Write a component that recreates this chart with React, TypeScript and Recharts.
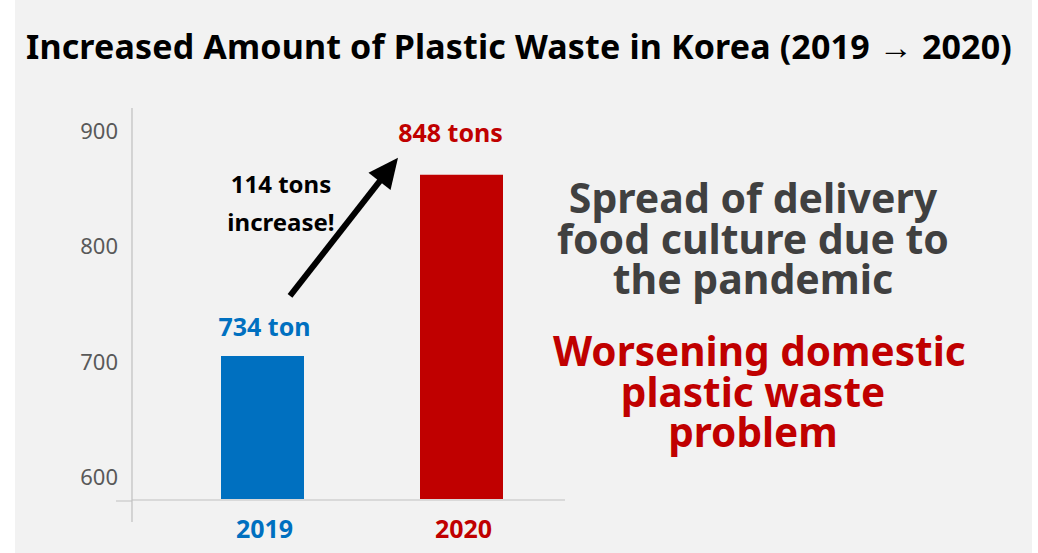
import { BarChart, Bar, XAxis, YAxis, Cell, LabelList } from "recharts";

const years = ["2019", "2020"];
const amounts = [705, 862]; // bar tops as drawn in the picture
const amountLabels = ["734 ton", "848 tons"];
const yearColors = ["#0070c0", "#c00000"];
const yTicks = [580, 600, 700, 800, 900];
const increaseLines = ["114 tons", "increase!"];
const causeLines = ["Spread of delivery", "food culture due to", "the pandemic"];
const effectLines = ["Worsening domestic", "plastic waste", "problem"];

const rows = years.map((year, i) => ({ year, amount: amounts[i], label: amountLabels[i] }));

const FONT = "'Noto Sans', 'Open Sans', sans-serif";
const Y_TICK_MARGIN = 13;

const ValueTick = (props: any) => {
  const { x, y, payload } = props;
  const axisX = x + Y_TICK_MARGIN;
  if (payload.value === yTicks[0]) {
    // little cross where the two axes meet
    return (
      <g>
        <line x1={axisX - 16} y1={y + 1} x2={axisX} y2={y + 1} stroke="#d9d9d9" strokeWidth={2} />
        <line x1={axisX} y1={y} x2={axisX} y2={y + 22} stroke="#bfbfbf" strokeWidth={1.2} />
      </g>
    );
  }
  return (
    <text x={x - 1} y={y + 8} textAnchor="end" fill="#595959" fontSize={22} fontFamily={FONT}>
      {payload.value}
    </text>
  );
};

const YearTick = (props: any) => {
  const { x, y, payload, index } = props;
  return (
    <text x={x + 2} y={y + 38} textAnchor="middle" fill={yearColors[index]} fontSize={25} fontWeight={700} fontFamily={FONT}>
      {payload.value}
    </text>
  );
};

const labelShift = [
  { dx: 2, dy: -20 },
  { dx: -11, dy: -33 },
];

const BarNote = (props: any) => {
  const { x, y, width, index, value } = props;
  const s = labelShift[index];
  const cx = x + width / 2 + s.dx;
  const text = (
    <text x={cx} y={y + s.dy} textAnchor="middle" fill={yearColors[index]} fontSize={25} fontWeight={700} fontFamily={FONT}>
      {value}
    </text>
  );
  if (index !== 1) return text;

  // arrow + note, placed off the 2020 bar
  const tail = { x: x - 130, y: y + 121 };
  const tip = { x: x - 22, y: y - 17 };
  const dx = tip.x - tail.x;
  const dy = tip.y - tail.y;
  const len = Math.sqrt(dx * dx + dy * dy);
  const ux = dx / len;
  const uy = dy / len;
  const headLen = 30;
  const half = 14;
  const bx = tip.x - ux * headLen;
  const by = tip.y - uy * headLen;
  const head = `${tip.x},${tip.y} ${bx - uy * half},${by + ux * half} ${bx + uy * half},${by - ux * half}`;
  return (
    <g>
      {text}
      <line x1={tail.x} y1={tail.y} x2={bx + ux * 2} y2={by + uy * 2} stroke="#000" strokeWidth={6} />
      <polygon points={head} fill="#000" />
      {increaseLines.map((t, i) => (
        <text key={t} x={x - 139} y={y + 18 + i * 38} textAnchor="middle" fill="#000" fontSize={24} fontWeight={700} fontFamily={FONT}>
          {t}
        </text>
      ))}
    </g>
  );
};

const textBlock = (lines: string[], top: number, color: string, size: number) => (
  <div
    style={{
      position: "absolute",
      left: 553,
      width: 400,
      top,
      textAlign: "center",
      fontFamily: FONT,
      fontWeight: 700,
      fontSize: size,
      lineHeight: "40.5px",
      color,
      whiteSpace: "nowrap",
    }}
  >
    {lines.map((l) => (
      <div key={l}>{l}</div>
    ))}
  </div>
);

export default function App() {
  return (
    <div style={{ position: "absolute", left: 0, top: 0, width: 1038, height: 553, background: "#fff", overflow: "hidden" }}>
      <div style={{ position: "absolute", left: 15, top: 0, width: 1017, height: 553, background: "#f2f2f2" }} />
      <div
        style={{
          position: "absolute",
          left: 0,
          top: 29,
          width: 1038,
          textAlign: "center",
          fontFamily: FONT,
          fontWeight: 700,
          fontSize: 34,
          letterSpacing: 0.15,
          lineHeight: "34px",
          color: "#000",
          whiteSpace: "nowrap",
        }}
      >
        Increased Amount of Plastic Waste in Korea (2019 → 2020)
      </div>
      <div style={{ position: "absolute", left: 0, top: 0 }}>
        <BarChart width={1038} height={553} data={rows} margin={{ top: 108, right: 473, bottom: 23, left: 72 }}>
          <XAxis
            dataKey="year"
            height={30}
            padding={{ left: 31, right: 4 }}
            axisLine={{ stroke: "#d9d9d9", strokeWidth: 2 }}
            tickLine={false}
            tickSize={0}
            tickMargin={0}
            interval={0}
            tick={<YearTick />}
          />
          <YAxis
            width={60}
            type="number"
            domain={[580, 920]}
            ticks={yTicks}
            interval={0}
            allowDataOverflow
            axisLine={{ stroke: "#bfbfbf", strokeWidth: 1.2 }}
            tickLine={false}
            tickSize={0}
            tickMargin={Y_TICK_MARGIN}
            tick={<ValueTick />}
          />
          <Bar dataKey="amount" barSize={83} isAnimationActive={false}>
            {rows.map((r, i) => (
              <Cell key={r.year} fill={yearColors[i]} />
            ))}
            <LabelList dataKey="label" content={<BarNote />} />
          </Bar>
        </BarChart>
      </div>
      {textBlock(causeLines, 177, "#404040", 41)}
      {textBlock(effectLines, 331, "#c00000", 40.5)}
    </div>
  );
}
